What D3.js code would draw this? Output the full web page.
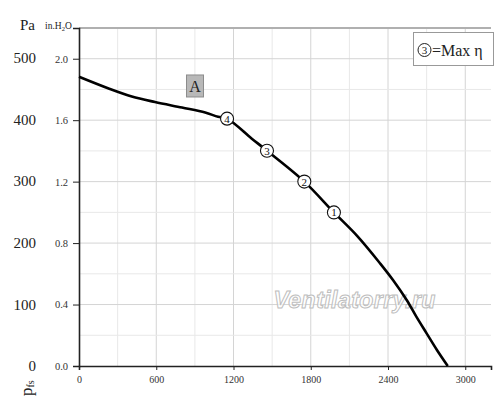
<!DOCTYPE html>
<html>
<head>
<meta charset="utf-8">
<script src="https://cdn.jsdelivr.net/npm/d3@7"></script>
<style>
  body { margin: 0; background: #fff; }
  svg { display: block; font-family: "Liberation Serif", "DejaVu Serif", serif; }
</style>
</head>
<body>
<svg class="chart"></svg>
<script>
// fan curve
const flow = [0, 230, 410, 590, 800, 980, 1080, 1150, 1340, 1460, 1750, 1980, 2160, 2340, 2440, 2545, 2620, 2700, 2780, 2864];
const pressure = [469, 450, 437, 428, 419, 411, 404, 401, 369, 349, 299, 249, 211, 166, 139, 107, 80, 53, 26, 0];

// numbered operating points on the curve
const markerLabels = ["1", "2", "3", "4"];
const markerFlow = [1980, 1750, 1460, 1150];
const markerPressure = [249, 299, 349, 401];

const xTicks = [0, 600, 1200, 1800, 2400, 3000];
const paTicks = [0, 100, 200, 300, 400, 500];
const inTicks = [0, 0.4, 0.8, 1.2, 1.6, 2.0];

function chart() {
    const W = 500, H = 407;
    const margin = {top: 28, right: 9, bottom: 41, left: 79},
        width = W - margin.left - margin.right,
        height = H - margin.top - margin.bottom;

    const root = d3.select(".chart").attr("width", W).attr("height", H);
    const svg = root.append("g")
        .attr("transform", `translate(${margin.left}, ${margin.top})`);

    const x = d3.scaleLinear().domain([0, 3200]).range([0, width]);
    const yIn = d3.scaleLinear().domain([0, 2.2]).range([height, 0]);
    const y = d3.scaleLinear().domain([0, 2.2 * 249.09]).range([height, 0]);

    // grid
    const vGrid = d3.range(300, 3201, 300);
    svg.append("g").selectAll("line").data(vGrid).join("line")
        .attr("x1", d => x(d)).attr("x2", d => x(d))
        .attr("y1", 0).attr("y2", height)
        .attr("stroke", d => d % 600 === 0 ? "#d4d4d4" : "#e8e8e8")
        .attr("stroke-width", 1);
    const hGrid = d3.range(1, 11).map(i => i * 0.2);
    svg.append("g").selectAll("line").data(hGrid).join("line")
        .attr("x1", 0).attr("x2", width)
        .attr("y1", d => yIn(d)).attr("y2", d => yIn(d))
        .attr("stroke", (d, i) => i % 2 === 1 ? "#d4d4d4" : "#e8e8e8")
        .attr("stroke-width", 1);

    // top frame line
    svg.append("line")
        .attr("x1", 0).attr("x2", width).attr("y1", 0).attr("y2", 0)
        .attr("stroke", "#b0b0b0").attr("stroke-width", 2);

    // axes
    const xAxis = svg.append("g")
        .attr("transform", `translate(0,${height})`)
        .call(d3.axisBottom(x).tickValues(xTicks).tickSize(4).tickPadding(6).tickFormat(d3.format("d")))
        .style("font-family", "'Liberation Serif', serif")
        .style("font-size", "10px");
    xAxis.select(".domain").attr("stroke", "#222").attr("stroke-width", 1.6);
    xAxis.selectAll(".tick line").attr("stroke", "#222");
    xAxis.selectAll("text").attr("fill", "#333");

    const yAxis = svg.append("g")
        .call(d3.axisLeft(yIn).tickValues(inTicks).tickSize(6).tickPadding(5).tickFormat(d3.format(".1f")))
        .style("font-family", "'Liberation Serif', serif")
        .style("font-size", "10.5px");
    yAxis.select(".domain").attr("stroke", "#222").attr("stroke-width", 1.6);
    yAxis.selectAll(".tick line").attr("stroke", "#222");
    yAxis.selectAll("text").attr("fill", "#333");

    // Pa labels
    svg.append("g").selectAll("text").data(paTicks).join("text")
        .attr("x", -43).attr("y", d => y(d)).attr("dy", "0.35em")
        .attr("text-anchor", "end").attr("font-size", 15).attr("fill", "#222")
        .text(d => d);

    root.append("text").attr("x", 20).attr("y", 30)
        .attr("font-size", 15).attr("fill", "#222").text("Pa");
    const unit = root.append("text").attr("x", 45).attr("y", 29)
        .attr("font-size", 9.5).attr("fill", "#222");
    unit.append("tspan").text("in.H");
    unit.append("tspan").attr("font-size", 6.5).attr("dy", 2).text("2");
    unit.append("tspan").attr("dy", -2).text("O");

    const pfs = root.append("text")
        .attr("transform", "translate(32,396) rotate(-90)")
        .attr("font-size", 17).attr("fill", "#222");
    pfs.append("tspan").text("p");
    pfs.append("tspan").attr("font-size", 10).attr("dy", 2).text("fs");

    // watermark
    svg.append("text")
        .attr("x", x(1510)).attr("y", y(94))
        .attr("font-family", "Liberation Sans").attr("font-style", "italic")
        .attr("font-weight", "bold")
        .attr("font-size", 23).attr("textLength", 162)
        .attr("fill", "#fff").attr("fill-opacity", 0.7)
        .attr("stroke", "#bdbdbd").attr("stroke-width", 1)
        .text("Ventilatorry.ru");

    // curve
    const pts = flow.map((f, i) => [f, pressure[i]]);
    const lineGenerator = d3.line()
        .x(d => x(d[0]))
        .y(d => y(d[1]))
        .curve(d3.curveCatmullRom.alpha(0.5));
    svg.append("path")
        .datum(pts)
        .attr("fill", "none")
        .attr("stroke", "#000")
        .attr("stroke-width", 2.6)
        .attr("d", lineGenerator);

    // markers
    const mk = svg.append("g").selectAll("g").data(markerLabels).join("g")
        .attr("transform", (d, i) => `translate(${x(markerFlow[i])},${y(markerPressure[i])})`);
    mk.append("circle").attr("r", 6.5)
        .attr("fill", "#fff").attr("stroke", "#111").attr("stroke-width", 1.1);
    mk.append("text").attr("text-anchor", "middle").attr("dy", "0.36em")
        .attr("font-size", 11).attr("fill", "#111").text(d => d);

    // "A" box
    const ax = x(901), ay = y(454);
    svg.append("rect").attr("x", ax - 8.5).attr("y", ay - 11).attr("width", 17).attr("height", 22)
        .attr("fill", "#b8b8b8").attr("stroke", "#8c8c8c").attr("stroke-width", 1);
    svg.append("text").attr("x", ax).attr("y", ay).attr("dy", "0.36em")
        .attr("text-anchor", "middle").attr("font-size", 16).attr("fill", "#222").text("A");

    // legend box
    const lg = root.append("g");
    lg.append("rect").attr("x", 413.5).attr("y", 32.5).attr("width", 80).attr("height", 33)
        .attr("fill", "#fff").attr("stroke", "#999").attr("stroke-width", 1);
    lg.append("circle").attr("cx", 424.5).attr("cy", 50).attr("r", 6.5)
        .attr("fill", "none").attr("stroke", "#222").attr("stroke-width", 1);
    lg.append("text").attr("x", 424.5).attr("y", 50).attr("dy", "0.36em")
        .attr("text-anchor", "middle").attr("font-size", 11).attr("fill", "#222").text("3");
    lg.append("text").attr("x", 432).attr("y", 55.5)
        .attr("font-size", 16).attr("fill", "#222").text("=Max η");
}

chart();
</script>
</body>
</html>
